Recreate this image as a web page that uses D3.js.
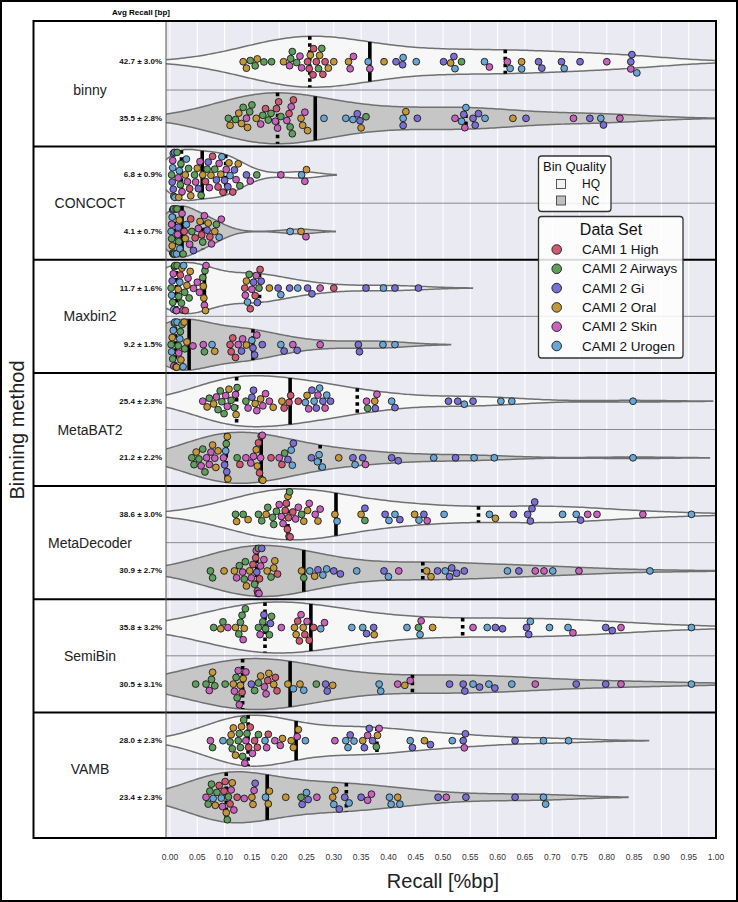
<!DOCTYPE html>
<html><head><meta charset="utf-8">
<script src="https://cdn.jsdelivr.net/npm/d3@7"></script>
<style>
body{margin:0;background:#fff}
svg{display:block}
text{font-family:"Liberation Sans",Arial,Helvetica,sans-serif}
</style>
</head><body>
<svg id="chart" width="738" height="902"></svg>
<script>
// ---------------- DATA ----------------
const methods = ["binny","CONCOCT","Maxbin2","MetaBAT2","MetaDecoder","SemiBin","VAMB"];
const qualities = ["HQ","NC"];
const datasets = ["CAMI 1 High","CAMI 2 Airways","CAMI 2 Gi","CAMI 2 Oral","CAMI 2 Skin","CAMI 2 Urogen"];
const datasetCodes = ["R","G","P","O","K","B"];
const datasetColors = ["#cc5a71","#5f9e5d","#7a6fd3","#c4983a","#c762bd","#6aa6d4"];
const qualityFills = ["#f7f7f7","#c6c6c6"];
const avgRecall = ["42.7 ± 3.0%","35.5 ± 2.8%","6.8 ± 0.9%","4.1 ± 0.7%","11.7 ± 1.6%","9.2 ± 1.5%",
  "25.4 ± 2.3%","21.2 ± 2.2%","38.6 ± 3.0%","30.9 ± 2.7%","35.8 ± 3.2%","30.5 ± 3.1%","28.0 ± 2.3%","23.4 ± 2.3%"];
const xTickValues = [0,0.05,0.1,0.15,0.2,0.25,0.3,0.35,0.4,0.45,0.5,0.55,0.6,0.65,0.7,0.75,0.8,0.85,0.9,0.95,1.0];
const xTickLabels = ["0.00","0.05","0.10","0.15","0.20","0.25","0.30","0.35","0.40","0.45","0.50","0.55","0.60","0.65","0.70","0.75","0.80","0.85","0.90","0.95","1.00"];

// quartiles (order: binny HQ, binny NC, CONCOCT HQ, ...)
const q1Values  = [0.256,0.197,0.021,0.008,0.012,0.010,0.122,0.103,0.216,0.159,0.174,0.133,0.143,0.103];
const medValues = [0.366,0.266,0.059,0.022,0.063,0.035,0.220,0.167,0.304,0.245,0.258,0.220,0.231,0.178];
const q3Values  = [0.614,0.542,0.102,0.060,0.164,0.152,0.343,0.275,0.565,0.463,0.536,0.444,0.379,0.323];

const binnyHQ = [[0.134,"O"],[0.140,"O"],[0.147,"G"],[0.156,"G"],[0.160,"O"],[0.172,"G"],[0.186,"G"],[0.208,"O"],[0.219,"K"],[0.221,"G"],[0.224,"G"],[0.232,"G"],[0.238,"K"],[0.241,"K"],[0.252,"R"],[0.255,"R"],[0.257,"O"],[0.262,"R"],[0.263,"R"],[0.268,"R"],[0.272,"G"],[0.274,"O"],[0.278,"G"],[0.280,"R"],[0.284,"R"],[0.290,"O"],[0.300,"O"],[0.327,"O"],[0.330,"K"],[0.336,"K"],[0.363,"B"],[0.366,"K"],[0.392,"O"],[0.414,"P"],[0.426,"P"],[0.427,"B"],[0.451,"B"],[0.501,"P"],[0.514,"O"],[0.522,"B"],[0.520,"P"],[0.534,"G"],[0.576,"B"],[0.585,"K"],[0.618,"K"],[0.623,"B"],[0.644,"O"],[0.644,"B"],[0.675,"P"],[0.681,"P"],[0.717,"P"],[0.722,"B"],[0.751,"P"],[0.800,"K"],[0.844,"P"],[0.844,"K"],[0.846,"P"],[0.855,"B"]];
const binnyNC = [[0.107,"G"],[0.110,"O"],[0.120,"G"],[0.126,"O"],[0.131,"O"],[0.134,"G"],[0.140,"K"],[0.142,"O"],[0.146,"G"],[0.150,"G"],[0.158,"O"],[0.166,"K"],[0.170,"G"],[0.175,"R"],[0.180,"G"],[0.185,"G"],[0.193,"K"],[0.195,"R"],[0.197,"K"],[0.199,"R"],[0.203,"G"],[0.214,"K"],[0.218,"R"],[0.220,"G"],[0.222,"K"],[0.224,"G"],[0.226,"R"],[0.240,"O"],[0.243,"O"],[0.247,"K"],[0.252,"O"],[0.282,"B"],[0.322,"B"],[0.335,"B"],[0.343,"P"],[0.348,"P"],[0.350,"O"],[0.359,"G"],[0.432,"O"],[0.427,"B"],[0.427,"P"],[0.453,"P"],[0.522,"K"],[0.534,"B"],[0.538,"P"],[0.540,"K"],[0.542,"B"],[0.555,"P"],[0.559,"P"],[0.565,"P"],[0.577,"B"],[0.628,"O"],[0.652,"P"],[0.739,"K"],[0.769,"P"],[0.789,"B"],[0.794,"P"],[0.824,"K"]];
const concoctHQ = [[0.003,"G"],[0.004,"P"],[0.005,"B"],[0.005,"K"],[0.006,"P"],[0.006,"B"],[0.007,"G"],[0.008,"P"],[0.009,"B"],[0.013,"G"],[0.015,"K"],[0.016,"O"],[0.017,"B"],[0.019,"G"],[0.020,"G"],[0.022,"K"],[0.028,"O"],[0.030,"B"],[0.032,"K"],[0.034,"G"],[0.036,"R"],[0.038,"O"],[0.045,"G"],[0.047,"K"],[0.050,"O"],[0.052,"P"],[0.055,"K"],[0.057,"G"],[0.060,"O"],[0.065,"R"],[0.068,"G"],[0.070,"P"],[0.072,"K"],[0.075,"O"],[0.078,"R"],[0.082,"G"],[0.085,"P"],[0.088,"R"],[0.090,"K"],[0.093,"O"],[0.095,"B"],[0.097,"R"],[0.100,"P"],[0.103,"K"],[0.106,"P"],[0.108,"O"],[0.110,"B"],[0.115,"R"],[0.118,"P"],[0.121,"K"],[0.125,"O"],[0.128,"G"],[0.140,"P"],[0.147,"K"],[0.159,"G"],[0.203,"K"],[0.241,"B"],[0.250,"O"],[0.247,"K"]];
const concoctNC = [[0.002,"B"],[0.003,"G"],[0.003,"K"],[0.004,"O"],[0.004,"B"],[0.005,"G"],[0.005,"B"],[0.006,"K"],[0.006,"G"],[0.007,"O"],[0.007,"B"],[0.008,"G"],[0.011,"O"],[0.012,"B"],[0.013,"G"],[0.014,"K"],[0.015,"P"],[0.016,"G"],[0.017,"O"],[0.018,"B"],[0.022,"K"],[0.024,"G"],[0.026,"R"],[0.028,"O"],[0.030,"B"],[0.036,"K"],[0.038,"R"],[0.040,"G"],[0.043,"P"],[0.046,"R"],[0.052,"K"],[0.055,"O"],[0.058,"R"],[0.060,"G"],[0.063,"K"],[0.068,"P"],[0.070,"O"],[0.073,"R"],[0.076,"K"],[0.082,"O"],[0.085,"G"],[0.090,"B"],[0.094,"K"],[0.220,"B"],[0.240,"O"],[0.249,"K"]];
const maxbinHQ = [[0.002,"G"],[0.003,"B"],[0.004,"P"],[0.005,"G"],[0.006,"K"],[0.007,"B"],[0.008,"G"],[0.009,"G"],[0.011,"B"],[0.012,"K"],[0.013,"G"],[0.015,"O"],[0.016,"G"],[0.018,"B"],[0.019,"R"],[0.021,"G"],[0.022,"O"],[0.024,"K"],[0.025,"B"],[0.027,"G"],[0.028,"R"],[0.031,"O"],[0.033,"K"],[0.035,"G"],[0.037,"O"],[0.043,"K"],[0.050,"K"],[0.054,"K"],[0.060,"G"],[0.061,"O"],[0.062,"O"],[0.063,"K"],[0.064,"G"],[0.065,"O"],[0.066,"K"],[0.137,"R"],[0.138,"K"],[0.140,"O"],[0.142,"B"],[0.145,"G"],[0.147,"R"],[0.150,"K"],[0.153,"P"],[0.156,"R"],[0.158,"K"],[0.160,"P"],[0.163,"G"],[0.165,"R"],[0.167,"P"],[0.182,"O"],[0.198,"P"],[0.203,"B"],[0.219,"P"],[0.234,"B"],[0.252,"P"],[0.260,"P"],[0.275,"K"],[0.300,"R"],[0.359,"P"],[0.391,"B"],[0.412,"P"],[0.455,"P"]];
const maxbinNC = [[0.002,"G"],[0.003,"B"],[0.004,"O"],[0.005,"G"],[0.006,"B"],[0.007,"K"],[0.008,"G"],[0.009,"B"],[0.011,"G"],[0.012,"O"],[0.013,"B"],[0.015,"G"],[0.016,"K"],[0.018,"B"],[0.019,"G"],[0.020,"O"],[0.022,"G"],[0.024,"B"],[0.026,"O"],[0.027,"G"],[0.031,"O"],[0.042,"K"],[0.061,"K"],[0.063,"G"],[0.077,"B"],[0.082,"O"],[0.110,"R"],[0.112,"R"],[0.115,"R"],[0.120,"R"],[0.125,"K"],[0.131,"P"],[0.133,"K"],[0.140,"O"],[0.150,"B"],[0.152,"P"],[0.155,"P"],[0.159,"K"],[0.169,"P"],[0.203,"B"],[0.209,"P"],[0.225,"K"],[0.233,"P"],[0.275,"K"],[0.345,"P"],[0.347,"P"],[0.390,"B"],[0.412,"B"]];
const metabatHQ = [[0.060,"K"],[0.068,"O"],[0.072,"G"],[0.080,"O"],[0.085,"K"],[0.088,"G"],[0.092,"G"],[0.095,"G"],[0.099,"G"],[0.102,"K"],[0.105,"K"],[0.108,"O"],[0.112,"G"],[0.118,"G"],[0.120,"K"],[0.121,"O"],[0.123,"G"],[0.139,"G"],[0.143,"K"],[0.150,"P"],[0.153,"P"],[0.156,"O"],[0.159,"K"],[0.166,"O"],[0.170,"K"],[0.175,"K"],[0.182,"K"],[0.189,"O"],[0.205,"O"],[0.209,"R"],[0.218,"R"],[0.221,"R"],[0.235,"R"],[0.248,"B"],[0.251,"O"],[0.254,"K"],[0.260,"P"],[0.264,"B"],[0.268,"P"],[0.271,"K"],[0.274,"B"],[0.280,"P"],[0.284,"K"],[0.287,"B"],[0.294,"P"],[0.360,"K"],[0.362,"G"],[0.375,"O"],[0.376,"P"],[0.379,"K"],[0.406,"B"],[0.412,"P"],[0.510,"P"],[0.527,"P"],[0.539,"B"],[0.555,"P"],[0.606,"B"],[0.626,"B"],[0.848,"B"]];
const metabatNC = [[0.040,"G"],[0.044,"G"],[0.048,"O"],[0.053,"G"],[0.057,"K"],[0.060,"G"],[0.064,"G"],[0.067,"K"],[0.072,"K"],[0.075,"K"],[0.078,"O"],[0.082,"K"],[0.084,"O"],[0.088,"O"],[0.098,"K"],[0.100,"P"],[0.102,"B"],[0.103,"G"],[0.104,"P"],[0.105,"O"],[0.106,"O"],[0.123,"G"],[0.128,"R"],[0.139,"K"],[0.148,"K"],[0.153,"K"],[0.158,"O"],[0.160,"O"],[0.162,"R"],[0.164,"R"],[0.166,"K"],[0.167,"R"],[0.168,"O"],[0.169,"K"],[0.170,"O"],[0.185,"R"],[0.200,"K"],[0.205,"R"],[0.210,"G"],[0.216,"P"],[0.222,"B"],[0.224,"B"],[0.226,"P"],[0.259,"P"],[0.270,"B"],[0.273,"B"],[0.279,"B"],[0.309,"O"],[0.335,"P"],[0.339,"B"],[0.353,"P"],[0.358,"K"],[0.406,"P"],[0.418,"P"],[0.483,"B"],[0.523,"P"],[0.557,"B"],[0.594,"B"],[0.848,"B"]];
const metadecHQ = [[0.120,"G"],[0.122,"O"],[0.134,"G"],[0.143,"O"],[0.162,"G"],[0.168,"G"],[0.176,"O"],[0.179,"G"],[0.188,"G"],[0.190,"G"],[0.195,"G"],[0.200,"K"],[0.204,"K"],[0.207,"K"],[0.211,"R"],[0.213,"R"],[0.215,"R"],[0.216,"O"],[0.217,"R"],[0.218,"K"],[0.219,"G"],[0.220,"R"],[0.225,"R"],[0.230,"K"],[0.235,"K"],[0.241,"G"],[0.245,"O"],[0.252,"O"],[0.255,"K"],[0.266,"K"],[0.271,"O"],[0.275,"K"],[0.302,"O"],[0.306,"B"],[0.350,"O"],[0.357,"G"],[0.357,"P"],[0.394,"P"],[0.401,"B"],[0.412,"B"],[0.421,"P"],[0.448,"O"],[0.456,"B"],[0.465,"P"],[0.471,"K"],[0.502,"B"],[0.585,"B"],[0.596,"O"],[0.629,"P"],[0.655,"P"],[0.660,"P"],[0.663,"P"],[0.668,"P"],[0.719,"B"],[0.744,"B"],[0.752,"P"],[0.765,"K"],[0.782,"K"],[0.866,"K"],[0.955,"B"]];
const metadecNC = [[0.074,"G"],[0.078,"G"],[0.099,"O"],[0.118,"O"],[0.122,"K"],[0.127,"G"],[0.133,"K"],[0.136,"G"],[0.138,"G"],[0.140,"O"],[0.146,"O"],[0.149,"K"],[0.152,"R"],[0.155,"G"],[0.157,"R"],[0.158,"K"],[0.159,"P"],[0.160,"K"],[0.161,"R"],[0.162,"G"],[0.163,"K"],[0.164,"R"],[0.166,"K"],[0.168,"P"],[0.172,"K"],[0.178,"O"],[0.185,"G"],[0.190,"O"],[0.192,"O"],[0.197,"R"],[0.241,"O"],[0.245,"G"],[0.256,"B"],[0.265,"O"],[0.271,"P"],[0.280,"B"],[0.287,"B"],[0.300,"P"],[0.312,"P"],[0.342,"B"],[0.392,"P"],[0.400,"B"],[0.419,"K"],[0.470,"O"],[0.478,"O"],[0.490,"P"],[0.504,"B"],[0.512,"P"],[0.516,"P"],[0.525,"P"],[0.539,"P"],[0.618,"B"],[0.639,"P"],[0.669,"K"],[0.685,"K"],[0.701,"B"],[0.749,"K"],[0.879,"B"]];
const semibinHQ = [[0.080,"G"],[0.093,"O"],[0.097,"G"],[0.106,"K"],[0.120,"O"],[0.126,"G"],[0.129,"G"],[0.132,"G"],[0.134,"K"],[0.136,"O"],[0.138,"G"],[0.162,"G"],[0.165,"K"],[0.170,"G"],[0.172,"P"],[0.175,"G"],[0.182,"G"],[0.184,"P"],[0.186,"G"],[0.204,"K"],[0.228,"O"],[0.231,"O"],[0.234,"R"],[0.237,"R"],[0.240,"K"],[0.244,"O"],[0.247,"R"],[0.251,"K"],[0.255,"R"],[0.263,"R"],[0.276,"B"],[0.283,"K"],[0.333,"B"],[0.353,"B"],[0.360,"P"],[0.373,"P"],[0.374,"O"],[0.434,"B"],[0.455,"G"],[0.458,"B"],[0.460,"K"],[0.481,"O"],[0.555,"K"],[0.581,"B"],[0.596,"P"],[0.609,"P"],[0.653,"P"],[0.657,"P"],[0.660,"B"],[0.695,"B"],[0.729,"B"],[0.738,"K"],[0.798,"P"],[0.810,"P"],[0.826,"K"],[0.955,"B"]];
const semibinNC = [[0.047,"G"],[0.066,"G"],[0.072,"K"],[0.076,"G"],[0.078,"O"],[0.082,"G"],[0.101,"G"],[0.116,"O"],[0.118,"K"],[0.121,"G"],[0.123,"G"],[0.125,"K"],[0.127,"K"],[0.129,"O"],[0.132,"R"],[0.134,"O"],[0.139,"K"],[0.149,"P"],[0.155,"G"],[0.162,"G"],[0.166,"O"],[0.173,"K"],[0.176,"K"],[0.179,"R"],[0.181,"O"],[0.190,"O"],[0.193,"R"],[0.196,"R"],[0.216,"O"],[0.226,"B"],[0.238,"O"],[0.245,"B"],[0.268,"G"],[0.285,"P"],[0.288,"P"],[0.298,"O"],[0.383,"B"],[0.386,"B"],[0.417,"K"],[0.430,"O"],[0.440,"K"],[0.512,"P"],[0.537,"P"],[0.540,"P"],[0.555,"B"],[0.567,"P"],[0.584,"B"],[0.595,"P"],[0.626,"B"],[0.669,"K"],[0.744,"P"],[0.798,"P"],[0.826,"K"],[0.955,"B"]];
const vambHQ = [[0.074,"K"],[0.078,"G"],[0.097,"B"],[0.110,"G"],[0.112,"O"],[0.114,"G"],[0.116,"O"],[0.120,"O"],[0.125,"G"],[0.127,"G"],[0.129,"G"],[0.131,"O"],[0.133,"G"],[0.135,"G"],[0.137,"K"],[0.139,"K"],[0.141,"G"],[0.144,"R"],[0.147,"R"],[0.151,"K"],[0.155,"R"],[0.160,"R"],[0.162,"G"],[0.174,"B"],[0.177,"K"],[0.180,"R"],[0.192,"K"],[0.202,"K"],[0.206,"O"],[0.222,"O"],[0.226,"O"],[0.233,"K"],[0.235,"O"],[0.248,"B"],[0.302,"K"],[0.322,"B"],[0.326,"B"],[0.330,"P"],[0.337,"B"],[0.353,"O"],[0.356,"P"],[0.362,"K"],[0.365,"P"],[0.371,"P"],[0.378,"G"],[0.380,"O"],[0.383,"K"],[0.440,"B"],[0.444,"P"],[0.466,"O"],[0.477,"P"],[0.517,"B"],[0.537,"P"],[0.539,"K"],[0.541,"P"],[0.632,"P"],[0.684,"B"],[0.730,"B"]];
const vambNC = [[0.066,"K"],[0.070,"G"],[0.073,"G"],[0.076,"G"],[0.079,"B"],[0.083,"O"],[0.086,"G"],[0.090,"R"],[0.094,"B"],[0.096,"K"],[0.099,"R"],[0.101,"R"],[0.103,"O"],[0.105,"G"],[0.107,"G"],[0.110,"R"],[0.112,"K"],[0.114,"O"],[0.117,"K"],[0.123,"R"],[0.136,"K"],[0.150,"O"],[0.152,"O"],[0.154,"K"],[0.156,"P"],[0.175,"B"],[0.180,"O"],[0.182,"O"],[0.212,"O"],[0.240,"G"],[0.242,"P"],[0.250,"B"],[0.253,"P"],[0.269,"K"],[0.298,"O"],[0.300,"B"],[0.302,"O"],[0.310,"P"],[0.320,"P"],[0.328,"B"],[0.350,"P"],[0.362,"K"],[0.369,"K"],[0.402,"B"],[0.405,"B"],[0.417,"O"],[0.421,"B"],[0.491,"P"],[0.506,"K"],[0.542,"P"],[0.632,"P"],[0.684,"B"],[0.688,"B"]];

const violinData = [binnyHQ,binnyNC,concoctHQ,concoctNC,maxbinHQ,maxbinNC,metabatHQ,metabatNC,
  metadecHQ,metadecNC,semibinHQ,semibinNC,vambHQ,vambNC];

// ---------------- LAYOUT ----------------
const svg = d3.select("#chart");
const W = 738, H = 902;
const P = {left:166, right:716, top:21, bottom:838};
const panelLeft = 33.5;
const x = d3.scaleLinear().domain([0,1]).range([170,716]);
const y = d3.scaleLinear().domain([-0.72,13.72]).range([P.top,P.bottom]);
const color = d3.scaleOrdinal().domain(datasetCodes).range(datasetColors);
const HALF = 25.5, R = 3.4, DIAM = 7.2, GUTTER = 22.5;

svg.append("rect").attr("x",1).attr("y",1).attr("width",W-2).attr("height",H-2)
  .attr("fill","#fff").attr("stroke","#000").attr("stroke-width",2);
svg.append("rect").attr("x",panelLeft).attr("y",P.top).attr("width",P.left-panelLeft).attr("height",P.bottom-P.top)
  .attr("fill","#fff");
svg.append("rect").attr("x",P.left).attr("y",P.top).attr("width",P.right-P.left).attr("height",P.bottom-P.top)
  .attr("fill","#eaeaf2");

svg.append("defs").append("clipPath").attr("id","plotclip").append("rect")
  .attr("x",P.left).attr("y",P.top).attr("width",P.right-P.left).attr("height",P.bottom-P.top);
const plot = svg.append("g").attr("clip-path","url(#plotclip)");

plot.selectAll("line.grid").data(xTickValues).join("line").attr("class","grid")
  .attr("x1",d=>x(d)).attr("x2",d=>x(d)).attr("y1",P.top).attr("y2",P.bottom)
  .attr("stroke","#fff").attr("stroke-width",1.1);

plot.selectAll("line.sep").data(methods).join("line").attr("class","sep")
  .attr("x1",P.left).attr("x2",P.right).attr("y1",(d,i)=>y(2*i+0.5)).attr("y2",(d,i)=>y(2*i+0.5))
  .attr("stroke","#8a8a8a").attr("stroke-width",1);

function kdeInfo(vals){
  const n = vals.length, sd = d3.deviation(vals);
  const bw = sd*Math.pow(n,-0.2);
  const lo = d3.min(vals)-2*bw, hi = d3.max(vals)+2*bw;
  const f = g => d3.sum(vals, v => Math.exp(-0.5*((g-v)/bw)**2));
  const grid = d3.range(200).map(i => lo+(hi-lo)*i/199);
  const dens = grid.map(f);
  const mx = d3.max(dens);
  return {grid, dens, mx, f};
}

violinData.forEach((data,i)=>{
  const vals = data.map(d=>d[0]);
  const k = kdeInfo(vals);
  const cy = y(i);
  const pts = k.grid.map((g,j)=>({g, h: HALF*k.dens[j]/k.mx}));
  const area = d3.area().x(d=>x(d.g)).y0(d=>cy-d.h).y1(d=>cy+d.h);
  plot.append("path").attr("d",area(pts)+"Z")
    .attr("fill",qualityFills[i%2]).attr("stroke","#707070").attr("stroke-width",1.5);
  const hAt = v => HALF*k.f(v)/k.mx;
  [q1Values[i],q3Values[i]].forEach(q=>{
    plot.append("line").attr("x1",x(q)).attr("x2",x(q)).attr("y1",cy-hAt(q)).attr("y2",cy+hAt(q))
      .attr("stroke","#000").attr("stroke-width",3.6).attr("stroke-dasharray","3.5,3.5");
  });
  const m = medValues[i];
  plot.append("line").attr("x1",x(m)).attr("x2",x(m)).attr("y1",cy-hAt(m)).attr("y2",cy+hAt(m))
    .attr("stroke","#000").attr("stroke-width",3.6);
});

// beeswarm layout (with gutters like seaborn)
function swarm(data, cy){
  const items = data.map(d=>({v:d[0], c:d[1], px:x(d[0])})).sort((a,b)=>a.px-b.px);
  const placed = [];
  items.forEach(p=>{
    const nb = placed.filter(q=>Math.abs(q.px-p.px)<DIAM);
    const cands = [0];
    nb.forEach(q=>{const dy=Math.sqrt(DIAM*DIAM-(q.px-p.px)**2); cands.push(q.off+dy, q.off-dy);});
    cands.sort((a,b)=>Math.abs(a)-Math.abs(b));
    p.off = 0;
    for(const c of cands){
      if(nb.every(q=>(q.px-p.px)**2+(q.off-c)**2 >= DIAM*DIAM-1e-6)){p.off=c;break;}
    }
    placed.push(p);
  });
  return placed.map(p=>({...p, py:cy+Math.max(-GUTTER,Math.min(GUTTER,p.off))}));
}
violinData.forEach((data,i)=>{
  const pts = swarm(data, y(i));
  plot.append("g").selectAll("circle").data(pts).join("circle")
    .attr("cx",d=>d.px).attr("cy",d=>d.py).attr("r",R)
    .attr("fill",d=>color(d.c)).attr("stroke","#1a1a1a").attr("stroke-width",0.9);
});

svg.selectAll("line.grp").data(d3.range(1,methods.length)).join("line").attr("class","grp")
  .attr("x1",panelLeft).attr("x2",P.right).attr("y1",d=>y(2*d-0.5)).attr("y2",d=>y(2*d-0.5))
  .attr("stroke","#000").attr("stroke-width",2);

svg.append("line").attr("x1",P.left).attr("x2",P.left).attr("y1",P.top).attr("y2",P.bottom)
  .attr("stroke","#555").attr("stroke-width",1);
svg.append("rect").attr("x",panelLeft).attr("y",P.top).attr("width",P.right-panelLeft).attr("height",P.bottom-P.top)
  .attr("fill","none").attr("stroke","#000").attr("stroke-width",2);

svg.append("text").attr("x",141).attr("y",12).attr("text-anchor","middle").attr("dominant-baseline","central")
  .attr("font-size",8).attr("font-weight","bold").text("Avg Recall [bp]");
svg.selectAll("text.method").data(methods).join("text").attr("class","method")
  .attr("x",90).attr("y",(d,i)=>y(2*i+0.5)).attr("text-anchor","middle").attr("dominant-baseline","central")
  .attr("font-size",14).attr("fill","#222").text(d=>d);
svg.selectAll("text.avg").data(avgRecall).join("text").attr("class","avg")
  .attr("x",162).attr("y",(d,i)=>y(i)).attr("text-anchor","end").attr("dominant-baseline","central")
  .attr("font-size",8).attr("font-weight","bold").attr("fill","#111").text(d=>d);

svg.selectAll("text.tick").data(xTickValues).join("text").attr("class","tick")
  .attr("x",d=>x(d)).attr("y",857).attr("text-anchor","middle").attr("dominant-baseline","central")
  .attr("font-size",8.5).attr("fill","#333").text((d,i)=>xTickLabels[i]);
svg.append("text").attr("x",443).attr("y",881).attr("text-anchor","middle").attr("dominant-baseline","central")
  .attr("font-size",20).attr("fill","#222").text("Recall [%bp]");
svg.append("text").attr("transform","translate(17,430) rotate(-90)").attr("text-anchor","middle")
  .attr("dominant-baseline","central").attr("font-size",20).attr("fill","#222").text("Binning method");

const lg1 = svg.append("g");
lg1.append("rect").attr("x",538.5).attr("y",156).attr("width",72.5).attr("height",55.5).attr("rx",3)
  .attr("fill","#fff").attr("fill-opacity",0.85).attr("stroke","#333").attr("stroke-width",1.3);
lg1.append("text").attr("x",574.5).attr("y",166).attr("text-anchor","middle").attr("dominant-baseline","central")
  .attr("font-size",13).attr("fill","#111").text("Bin Quality");
qualities.forEach((q,i)=>{
  const cy = 184+i*16.5;
  lg1.append("rect").attr("x",556.5).attr("y",cy-4.5).attr("width",9).attr("height",9)
    .attr("fill",i===0?"#f2f2f2":"#c0c0c0").attr("stroke","#444").attr("stroke-width",0.9);
  lg1.append("text").attr("x",582).attr("y",cy).attr("dominant-baseline","central")
    .attr("font-size",12).attr("fill","#111").text(q);
});

const lg2 = svg.append("g");
lg2.append("rect").attr("x",538.5).attr("y",216.5).attr("width",144.5).attr("height",141.5).attr("rx",3)
  .attr("fill","#fff").attr("fill-opacity",0.85).attr("stroke","#333").attr("stroke-width",1.3);
lg2.append("text").attr("x",611).attr("y",229).attr("text-anchor","middle").attr("dominant-baseline","central")
  .attr("font-size",16).attr("fill","#111").text("Data Set");
datasets.forEach((d,i)=>{
  const cy = 249.5+i*19.3;
  lg2.append("circle").attr("cx",556.7).attr("cy",cy).attr("r",4.8)
    .attr("fill",datasetColors[i]).attr("stroke","#1a1a1a").attr("stroke-width",0.9);
  lg2.append("text").attr("x",582).attr("y",cy).attr("dominant-baseline","central")
    .attr("font-size",13.5).attr("fill","#111").text(d);
});
</script>
</body></html>
